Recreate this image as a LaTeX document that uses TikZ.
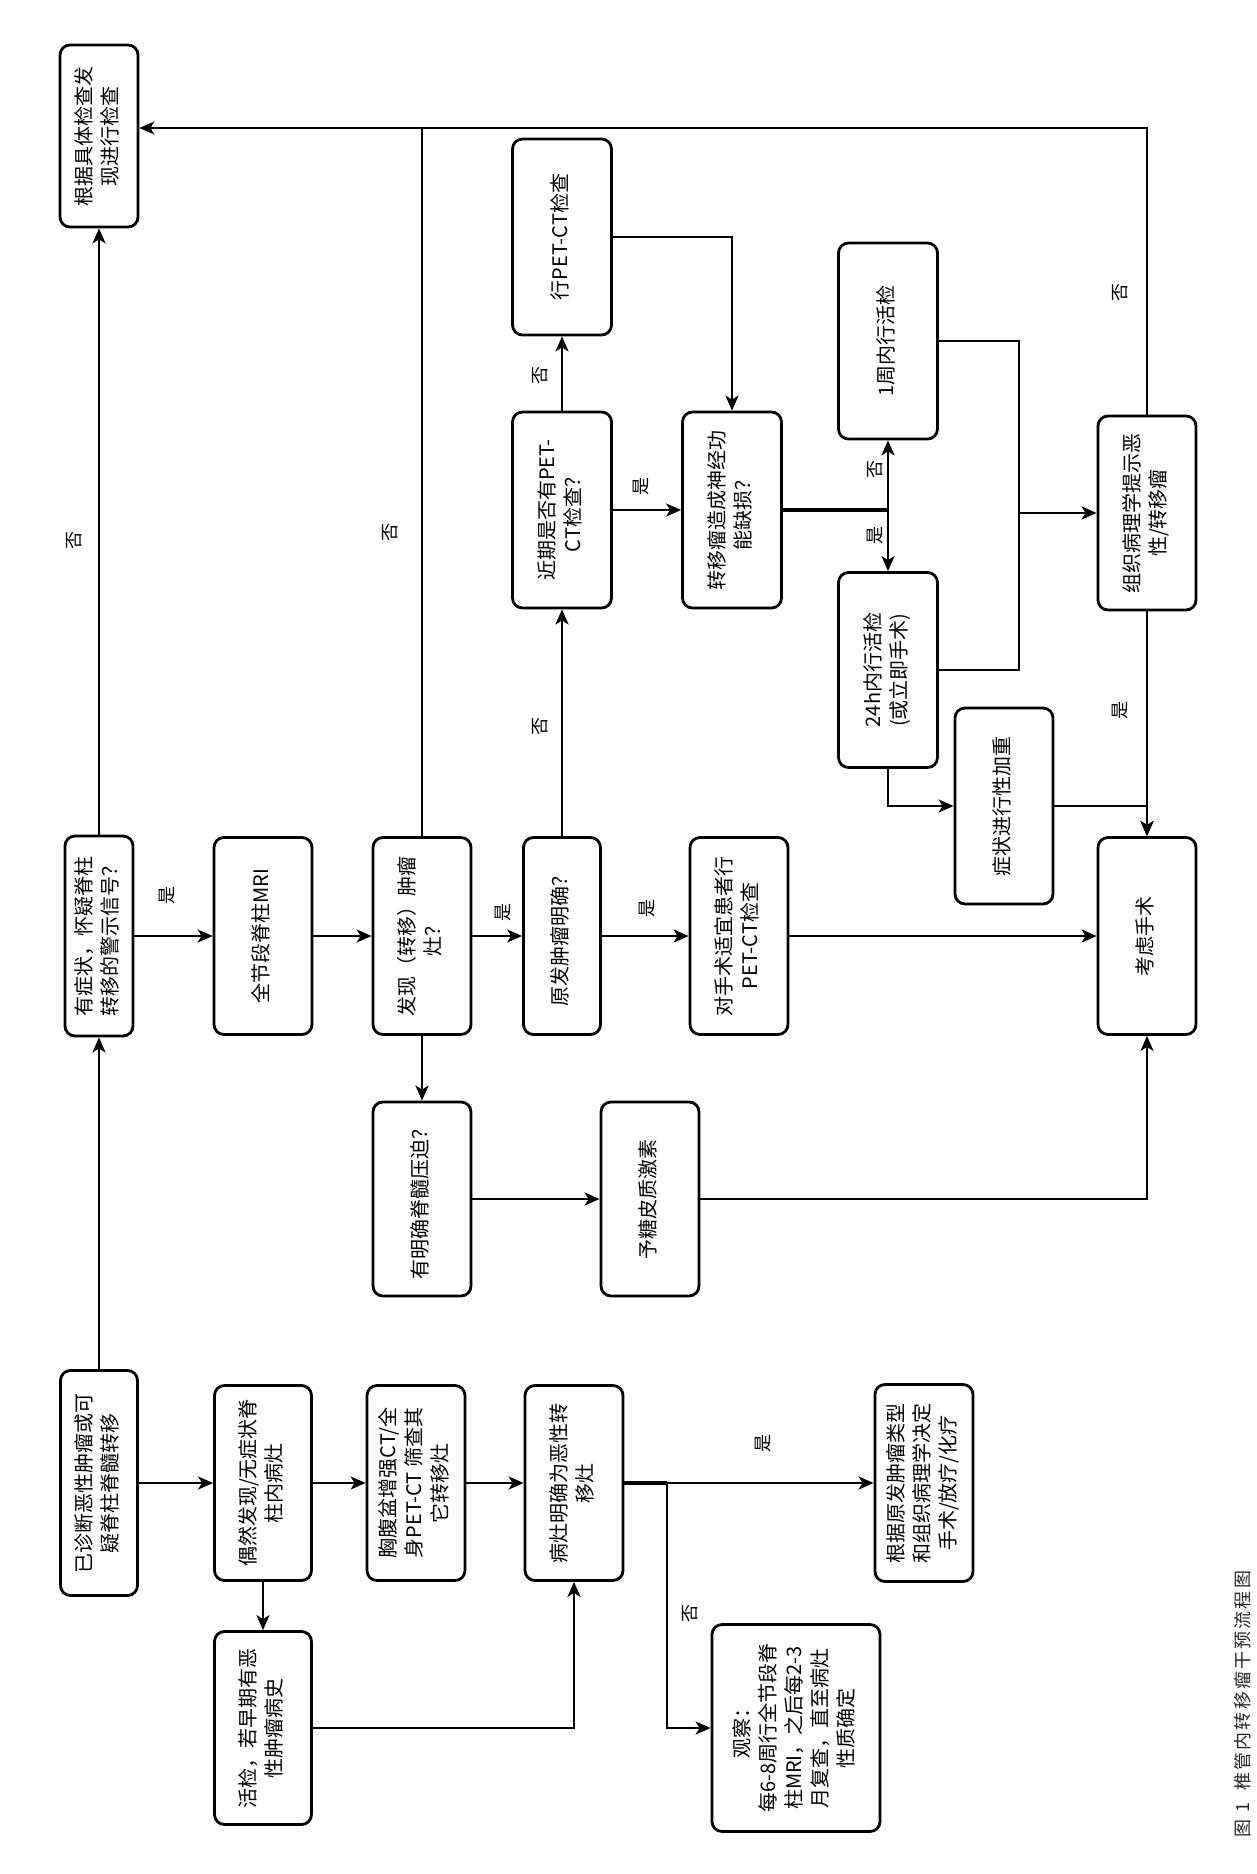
\documentclass[tikz,border=0pt]{standalone}
\usepackage{fontspec}
\usepackage{graphicx}
\usetikzlibrary{arrows.meta}
\newfontfamily\cjk{Noto Sans CJK SC}
\newfontfamily\capfont[LetterSpace=12]{Noto Sans CJK SC}
\newcommand{\rt}[1]{\rotatebox{90}{\begin{tabular}{@{}c@{}}#1\end{tabular}}}
\tikzset{
  box/.style={draw, line width=2.8pt, rounded corners=10pt, inner sep=0pt, fill=white,
    font=\cjk\fontsize{20}{26}\selectfont},
  lbl/.style={font=\cjk\fontsize{18}{18}\selectfont, rotate=90, inner sep=0pt},
  conn/.style={line width=2.4pt, -{Stealth[length=15pt,width=13pt,inset=4pt]}},
  plain/.style={line width=2.4pt},
  heavy/.style={line width=3.8pt},
}
\begin{document}
\begin{tikzpicture}[x=1pt,y=-1pt]
\useasboundingbox[fill=white] (0,0) rectangle (1256,1874);
% column 1
\node[box, minimum width=78pt, minimum height=182pt] (K) at (99,136) {\rt{根据具体检查发\\现进行检查}};
\node[box, minimum width=68pt, minimum height=200pt] (H) at (99,936) {\rt{有症状，怀疑脊柱\\转移的警示信号？}};
\node[box, minimum width=77pt, minimum height=225pt] (A) at (99,1483) {\rt{已诊断恶性肿瘤或可\\疑脊柱脊髓转移}};
% column 2
\node[box, minimum width=98pt, minimum height=197pt] (I) at (263,936) {\rt{全节段脊柱MRI}};
\node[box, minimum width=97pt, minimum height=195pt] (B) at (263,1483) {\rt{偶然发现/无症状脊\\柱内病灶}};
\node[box, minimum width=97pt, minimum height=193pt] (C) at (263,1728) {\rt{活检，若早期有恶\\性肿瘤病史}};
% column 3
\node[box, minimum width=98pt, minimum height=197pt] (J) at (422,936) {\rt{发现（转移）肿瘤\\灶？}};
\node[box, minimum width=98pt, minimum height=194pt] (M) at (422,1199) {\rt{有明确脊髓压迫？}};
\node[box, minimum width=98pt, minimum height=195pt] (D) at (416,1483) {\rt{胸腹盆增强CT/全\\身PET-CT 筛查其\\它转移灶}};
% column 4
\node[box, minimum width=99pt, minimum height=196pt] (Q) at (562,237) {\rt{行PET-CT检查}};
\node[box, minimum width=99pt, minimum height=196pt] (P) at (562,510) {\rt{近期是否有PET-\\CT检查？}};
\node[box, minimum width=77pt, minimum height=197pt] (N) at (562,936) {\rt{原发肿瘤明确？}};
\node[box, minimum width=98pt, minimum height=195pt] (E) at (574,1483) {\rt{病灶明确为恶性转\\移灶}};
\node[box, minimum width=98pt, minimum height=194pt] (T) at (650,1199) {\rt{予糖皮质激素}};
% column 5
\node[box, minimum width=99pt, minimum height=196pt] (R) at (732,510) {\rt{转移瘤造成神经功\\能缺损？}};
\node[box, minimum width=98pt, minimum height=197pt] (S) at (739,936) {\rt{对手术适宜患者行\\PET-CT检查}};
\node[box, minimum width=168pt, minimum height=207pt] (G) at (796,1728) {\rt{观察：\\每6-8周行全节段脊\\柱MRI，之后每2-3\\月复查，直至病灶\\性质确定}};
% column 6
\node[box, minimum width=99pt, minimum height=196pt] (U) at (888,341) {\rt{1周内行活检}};
\node[box, minimum width=99pt, minimum height=195pt] (V) at (888,670) {\rt{24h内行活检\\(或立即手术)}};
\node[box, minimum width=98pt, minimum height=196pt] (W) at (1004,806) {\rt{症状进行性加重}};
\node[box, minimum width=98pt, minimum height=197pt] (F) at (924,1483) {\rt{根据原发肿瘤类型\\和组织病理学决定\\手术/放疗/化疗}};
% column 7
\node[box, minimum width=98pt, minimum height=194pt] (X) at (1147,513) {\rt{组织病理学提示恶\\性/转移瘤}};
\node[box, minimum width=98pt, minimum height=197pt] (Y) at (1147,936) {\rt{考虑手术}};
% helper coordinates
\coordinate (top) at (0,128);
\coordinate (rj) at (888,510);
\coordinate (ux) at (1019,513);
\coordinate (ej) at (667,1483);
% connectors
\draw[conn] (A.north) -- (H.south);
\draw[conn] (H.north) -- (K.south);
\draw[conn] (H.east) -- (I.west);
\draw[conn] (I.east) -- (J.west);
\draw[conn] (J.south) -- (M.north);
\draw[conn] (J.east) -- (N.west);
\draw[conn] (N.east) -- (S.west);
\draw[conn] (S.east) -- (Y.west);
\draw[conn] (N.north) -- (P.south);
\draw[conn] (P.north) -- (Q.south);
\draw[conn] (P.east) -- (R.west);
\draw[conn] (Q.east) -| (R.north);
\draw[heavy] (R.east) -- (rj);
\draw[conn] (rj) -- (U.south);
\draw[conn] (rj) -- (V.north);
\draw[plain] (U.east) -| (ux);
\draw[plain] (V.east) -| (ux);
\draw[conn] (ux) -- (X.west);
\draw[conn] (V.south) |- (W.west);
\draw[conn] (W.east) -| (Y.north);
\draw[conn] (X.south) -- (Y.north);
\draw[conn] (T.east) -| (Y.south);
\draw[conn] (M.east) -- (T.west);
\draw[conn] (X.north) -- (X.north |- top) -- (K.east |- top);
\draw[plain] (J.north) -- (J.north |- top);
\draw[conn] (A.east) -- (B.west);
\draw[conn] (B.south) -- (C.north);
\draw[conn] (B.east) -- (D.west);
\draw[conn] (D.east) -- (E.west);
\draw[conn] (C.east) -| (E.south);
\draw[heavy] (E.east) -- (ej);
\draw[conn] (ej) -- (F.west);
\draw[conn] (ej) |- (G.west);
% labels
\node[lbl] (l1) at (74,540) {否};
\node[lbl] (l2) at (167,895) {是};
\node[lbl] (l3) at (390,532) {否};
\node[lbl] (l4) at (503,912) {是};
\node[lbl] (l5) at (647,908) {是};
\node[lbl] (l6) at (540,726) {否};
\node[lbl] (l7) at (540,375) {否};
\node[lbl] (l8) at (641,486) {是};
\node[lbl] (l9) at (875,469) {否};
\node[lbl] (l10) at (875,535) {是};
\node[lbl] (l11) at (1120,292) {否};
\node[lbl] (l12) at (1120,710) {是};
\node[lbl] (l13) at (763,1443) {是};
\node[lbl] (l14) at (690,1613) {否};
% caption
\node[font=\capfont\fontsize{18}{18}\selectfont, rotate=90, inner sep=0pt, text=black!85] (cap) at (1243,1704) {图 1\ \ 椎管内转移瘤干预流程图};
\end{tikzpicture}
\end{document}
